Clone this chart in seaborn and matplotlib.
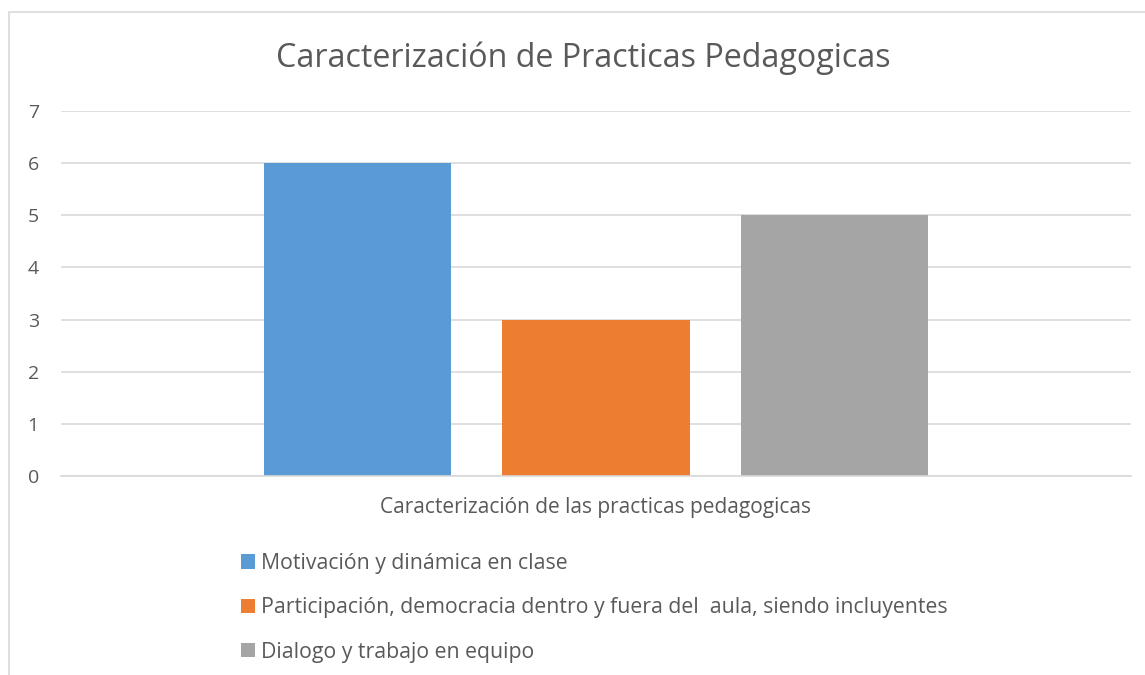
import matplotlib
matplotlib.use("Agg")
import matplotlib.pyplot as plt
import seaborn as sns
import pandas as pd
from matplotlib.patches import Rectangle, Patch

category = ["Caracterización de las practicas pedagogicas"]
series = ["Motivación y dinámica en clase",
          "Participación, democracia dentro y fuera del  aula, siendo incluyentes",
          "Dialogo y trabajo en equipo"]
values = [6, 3, 5]
colors = ["#5B9BD5", "#ED7D31", "#A5A5A5"]
yticks = [0, 1, 2, 3, 4, 5, 6, 7]
title = "Caracterización de Practicas Pedagogicas"

sns.set_theme(style="white")
plt.rcParams['font.family'] = ['Open Sans', 'DejaVu Sans']

df = pd.DataFrame({"cat": category * len(series), "serie": series, "valor": values})

fig = plt.figure(figsize=(11.45, 6.75), dpi=100)
ax = fig.add_axes([61/1145, 1-476/675, 1070/1145, 365/675])

sns.barplot(data=df, x="cat", y="valor", hue="serie", hue_order=series,
            palette=colors, width=0.669, gap=0.215, saturation=1,
            ax=ax, legend=False, edgecolor="none")

ax.set_xlim(-0.5, 0.5)
ax.set_ylim(0, 7)
ax.set_yticks(yticks)
ax.yaxis.grid(True, color="#D9D9D9", linewidth=1.2)
ax.set_axisbelow(True)
for s in ["left", "right", "top"]:
    ax.spines[s].set_visible(False)
ax.spines["bottom"].set_color("#D9D9D9")
ax.spines["bottom"].set_linewidth(1.2)
ax.tick_params(axis="y", length=0, labelsize=14, colors="#595959", pad=16)
ax.tick_params(axis="x", length=0, labelsize=15, colors="#595959", pad=15)
ax.set_xlabel("")
ax.set_ylabel("")

fig.text(583/1145, 1-58/675, title, ha="center", va="center",
         fontsize=23.2, color="#595959")

handles = [Patch(facecolor=c, edgecolor="none") for c in colors]
leg = fig.legend(handles, series, loc="upper left",
                 bbox_to_anchor=(241/1145, 1-553/675), frameon=False,
                 fontsize=15.3, labelcolor="#595959", handlelength=0.65,
                 handleheight=0.65, handletextpad=0.3, labelspacing=1.1,
                 borderpad=0, borderaxespad=0)

# chart outer frame
fig.patches.append(Rectangle((9/1145, -0.05), 1.2, 1-12/675+0.05,
                             transform=fig.transFigure, fill=False,
                             edgecolor="#D9D9D9", linewidth=1.2))

fig.savefig("out.png", dpi=100)
